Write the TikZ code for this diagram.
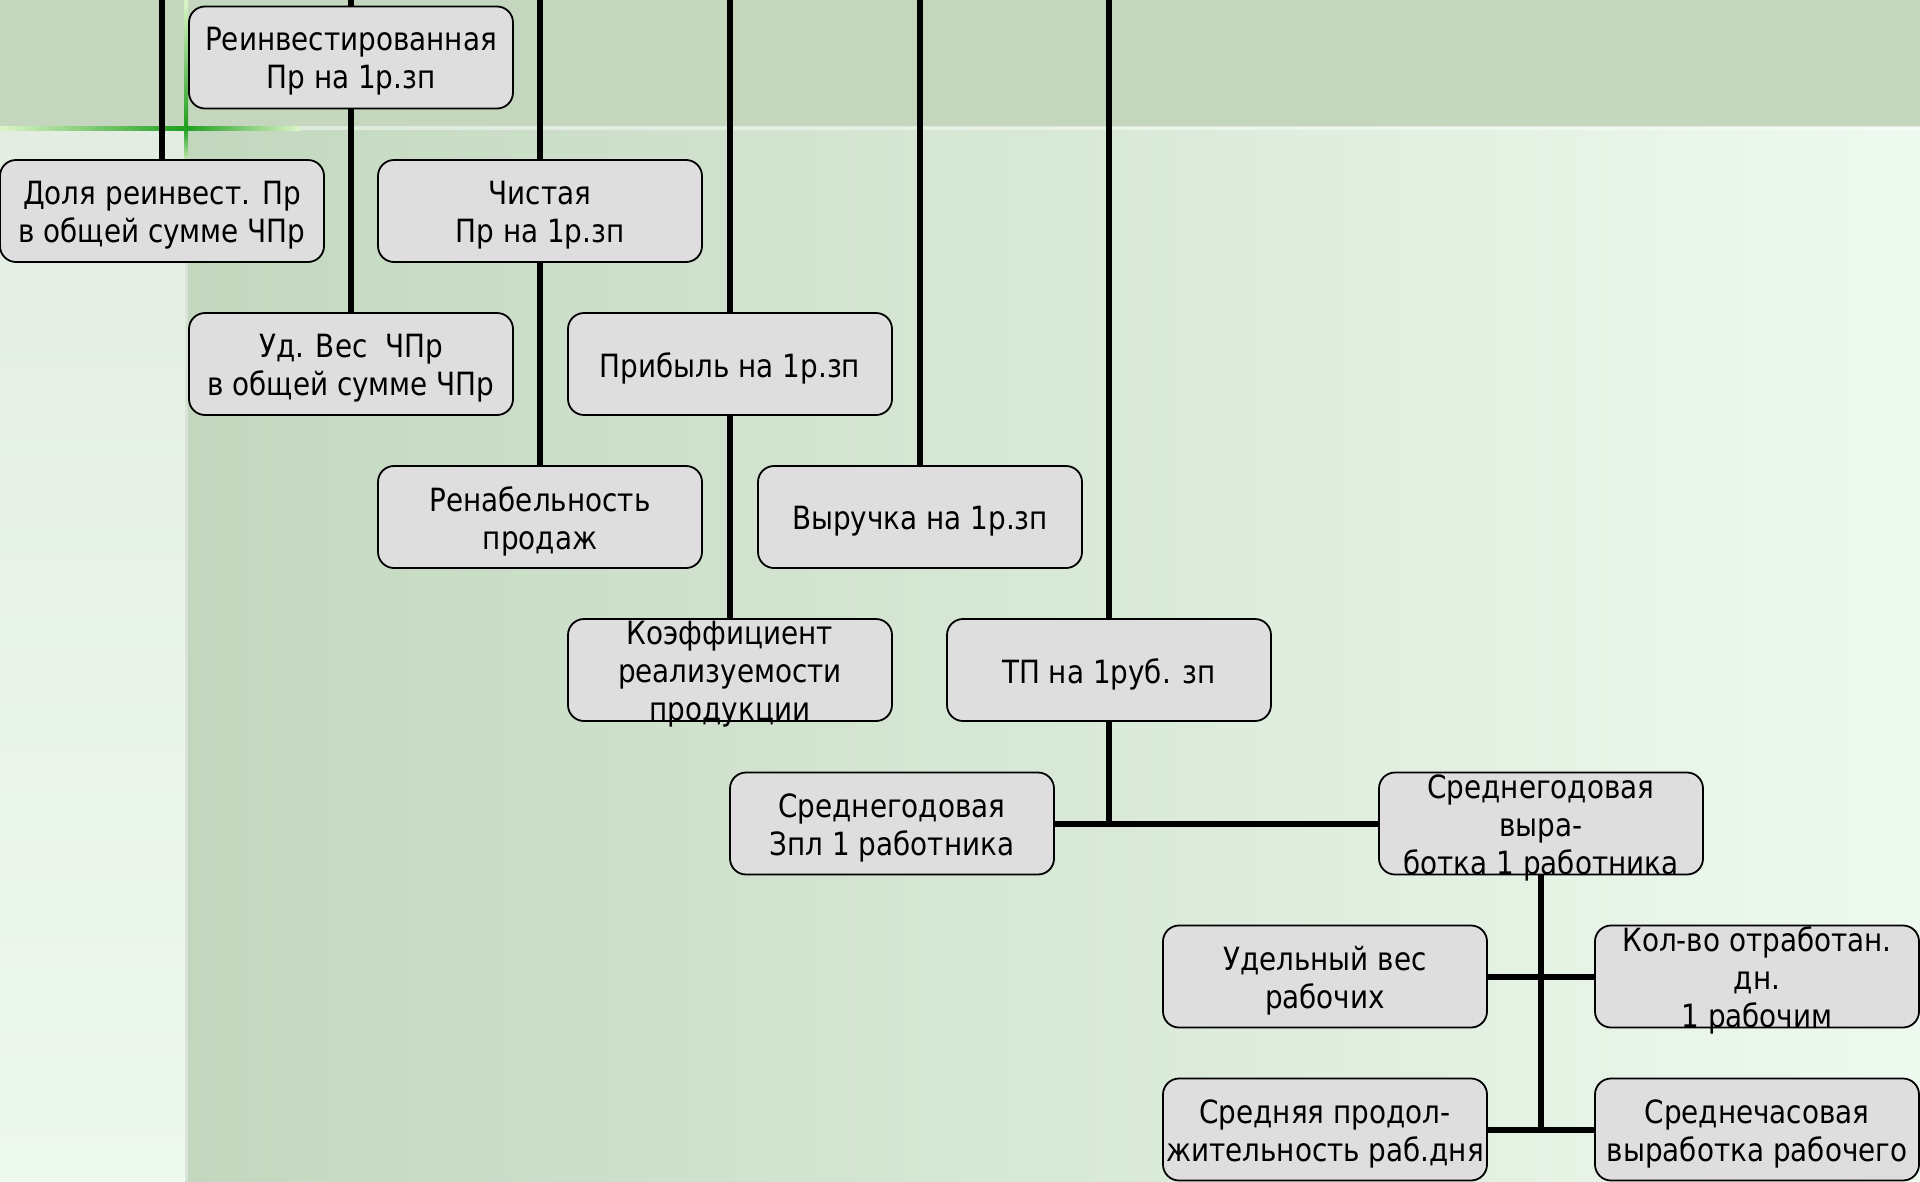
\documentclass[tikz,border=0pt]{standalone}
\usepackage{fontspec}
\newfontfamily\boxfont[FakeStretch=0.87]{DejaVu Sans}
\definecolor{band}{HTML}{C4D6BE}
\definecolor{gradL}{HTML}{C3D7BF}
\definecolor{gradR}{HTML}{EEFAEF}
\definecolor{stripT}{HTML}{E3EDE1}
\definecolor{stripB}{HTML}{EEF9EE}
\definecolor{glow}{HTML}{1E9E1E}
\definecolor{glowL}{HTML}{DDF5C8}
\definecolor{boxgray}{HTML}{DEDEDE}
\pgfdeclarelayer{back}
\pgfdeclarelayer{lines}
\pgfsetlayers{back,lines,main}
\tikzset{
  box/.style={draw=black, fill=boxgray, rounded corners=16pt, line width=1.8pt,
    minimum width=324pt, minimum height=102pt, inner sep=0pt},
  lbl/.style={inner sep=0pt, align=center, yshift=-4pt,
    font=\boxfont\fontsize{32pt}{38pt}\selectfont},
  conn/.style={line width=6pt, draw=black}
}
\begin{document}
\begin{tikzpicture}[x=1pt,y=-1pt]
\useasboundingbox (0,0) rectangle (1920,1181);
\clip (0,0) rectangle (1920,1181);
% nodes
\node[box, label={[lbl]center:{Доля реинвест. Пр\\в общей сумме ЧПр}}] (dolya) at (162,211) {};
\node[box, label={[lbl]center:{Реинвестированная\\Пр на 1р.зп}}] (reinv) at (351,57.5) {};
\node[box, label={[lbl]center:{Чистая\\Пр на 1р.зп}}] (chist) at (540,211) {};
\node[box, label={[lbl]center:{Уд. Вес\ \ ЧПр\\в общей сумме ЧПр}}] (udves) at (351,364) {};
\node[box, label={[lbl]center:{Прибыль на 1р.зп}}] (prib) at (730,364) {};
\node[box, label={[lbl]center:{Ренабельность\\продаж}}] (renab) at (540,517) {};
\node[box, label={[lbl]center:{Выручка на 1р.зп}}] (vyr) at (920,517) {};
\node[box, label={[lbl]center:{Коэффициент\\реализуемости\\продукции}}] (koef) at (730,670) {};
\node[box, label={[lbl]center:{ТП на 1руб. зп}}] (tp) at (1109,670) {};
\node[box, label={[lbl]center:{Среднегодовая\\Зпл 1 работника}}] (zpl) at (892,823.5) {};
\node[box, label={[lbl]center:{Среднегодовая\\выра-\\ботка 1 работника}}] (vyrab) at (1541,823.5) {};
\node[box, label={[lbl]center:{Удельный вес\\рабочих}}] (udel) at (1325,976.5) {};
\node[box, label={[lbl]center:{Кол-во отработан.\\дн.\\1 рабочим}}] (kolvo) at (1757,976.5) {};
\node[box, label={[lbl]center:{Средняя продол-\\жительность раб.дня}}] (sredpr) at (1325,1129.5) {};
\node[box, label={[lbl]center:{Среднечасовая\\выработка рабочего}}] (sredch) at (1757,1129.5) {};
\coordinate (t0) at (162,0);
\coordinate (t1) at (351,0);
\coordinate (t2) at (540,0);
\coordinate (t3) at (730,0);
\coordinate (t4) at (920,0);
\coordinate (t5) at (1109,0);
\coordinate (j1) at (1109,823.5);
\coordinate (j3) at (1541,1129.5);
% background
\begin{pgfonlayer}{back}
\fill[band] (0,0) rectangle (1920,127);
\shade[left color=gradL, right color=gradR] (185,127) rectangle (1920,1181);
\shade[top color=stripT, bottom color=stripB] (0,127) rectangle (185,1181);
\fill[white, opacity=0.45] (0,126) rectangle (1920,129.5);
\fill[white, opacity=0.35] (184.5,0) rectangle (188,1181);
\shade[left color=glowL, right color=glow] (0,126) rectangle (186,130);
\shade[left color=glow, right color=glowL] (186,126) rectangle (300,130);
\shade[top color=glowL, bottom color=glow] (184.5,0) rectangle (188,128);
\shade[top color=glow, bottom color=glowL] (184.5,128) rectangle (188,165);
\end{pgfonlayer}
% connectors
\begin{pgfonlayer}{lines}
\draw[conn] (t0) -- (dolya.north);
\draw[conn] (t1) -- (reinv.north);
\draw[conn] (reinv.south) -- (udves.north);
\draw[conn] (t2) -- (chist.north);
\draw[conn] (chist.south) -- (renab.north);
\draw[conn] (t3) -- (prib.north);
\draw[conn] (prib.south) -- (koef.north);
\draw[conn] (t4) -- (vyr.north);
\draw[conn] (t5) -- (tp.north);
\draw[conn] (tp.south) -- (j1);
\draw[conn] (zpl.east) -- (vyrab.west);
\draw[conn] (vyrab.south) -- (j3);
\draw[conn] (udel.east) -- (kolvo.west);
\draw[conn] (sredpr.east) -- (sredch.west);
\end{pgfonlayer}
\end{tikzpicture}
\end{document}
